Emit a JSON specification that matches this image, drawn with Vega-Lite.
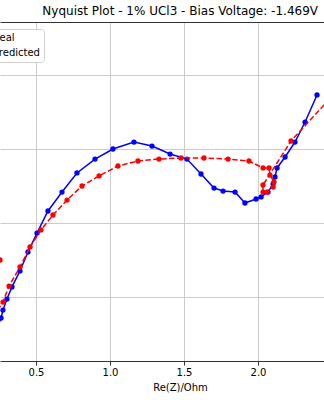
{
  "$schema": "https://vega.github.io/schema/vega-lite/v6.json",
  "width": 324,
  "height": 339,
  "autosize": {"type": "none"},
  "padding": {"left": 0, "right": 0, "top": 22, "bottom": 39},
  "background": "white",
  "config": {
    "view": {"stroke": null},
    "font": "DejaVu Sans",
    "axis": {"labelFont": "DejaVu Sans", "titleFont": "DejaVu Sans"}
  },
  "title": {
    "text": "Nyquist Plot - 1% UCl3 - Bias Voltage: -1.469V",
    "anchor": "end",
    "dx": -6,
    "offset": 4,
    "fontSize": 12,
    "font": "DejaVu Sans",
    "fontWeight": "normal",
    "color": "#000000"
  },
  "data": {
    "values": [
      {"series": "Real", "i": 0, "re": 0.216, "im": -0.257},
      {"series": "Real", "i": 1, "re": 0.264, "im": -0.142},
      {"series": "Real", "i": 2, "re": 0.277, "im": -0.088},
      {"series": "Real", "i": 3, "re": 0.304, "im": -0.014},
      {"series": "Real", "i": 4, "re": 0.338, "im": 0.068},
      {"series": "Real", "i": 5, "re": 0.392, "im": 0.176},
      {"series": "Real", "i": 6, "re": 0.446, "im": 0.304},
      {"series": "Real", "i": 7, "re": 0.507, "im": 0.432},
      {"series": "Real", "i": 8, "re": 0.581, "im": 0.581},
      {"series": "Real", "i": 9, "re": 0.676, "im": 0.709},
      {"series": "Real", "i": 10, "re": 0.777, "im": 0.838},
      {"series": "Real", "i": 11, "re": 0.899, "im": 0.932},
      {"series": "Real", "i": 12, "re": 1.020, "im": 1.000},
      {"series": "Real", "i": 13, "re": 1.162, "im": 1.047},
      {"series": "Real", "i": 14, "re": 1.284, "im": 1.020},
      {"series": "Real", "i": 15, "re": 1.406, "im": 0.966},
      {"series": "Real", "i": 16, "re": 1.520, "im": 0.932},
      {"series": "Real", "i": 17, "re": 1.615, "im": 0.831},
      {"series": "Real", "i": 18, "re": 1.703, "im": 0.736},
      {"series": "Real", "i": 19, "re": 1.764, "im": 0.716},
      {"series": "Real", "i": 20, "re": 1.845, "im": 0.709},
      {"series": "Real", "i": 21, "re": 1.912, "im": 0.635},
      {"series": "Real", "i": 22, "re": 1.987, "im": 0.662},
      {"series": "Real", "i": 23, "re": 2.021, "im": 0.676},
      {"series": "Real", "i": 24, "re": 2.068, "im": 0.709},
      {"series": "Real", "i": 25, "re": 2.102, "im": 0.764},
      {"series": "Real", "i": 26, "re": 2.115, "im": 0.811},
      {"series": "Real", "i": 27, "re": 2.129, "im": 0.872},
      {"series": "Real", "i": 28, "re": 2.183, "im": 0.946},
      {"series": "Real", "i": 29, "re": 2.250, "im": 1.047},
      {"series": "Real", "i": 30, "re": 2.318, "im": 1.182},
      {"series": "Real", "i": 31, "re": 2.399, "im": 1.365},
      {"series": "Predicted", "i": 1, "re": 0.257, "im": 0.250},
      {"series": "Predicted", "i": 2, "re": 0.156, "im": -0.223},
      {"series": "Predicted", "i": 3, "re": 0.277, "im": -0.034},
      {"series": "Predicted", "i": 4, "re": 0.318, "im": 0.074},
      {"series": "Predicted", "i": 5, "re": 0.392, "im": 0.203},
      {"series": "Predicted", "i": 6, "re": 0.460, "im": 0.338},
      {"series": "Predicted", "i": 7, "re": 0.534, "im": 0.453},
      {"series": "Predicted", "i": 8, "re": 0.615, "im": 0.554},
      {"series": "Predicted", "i": 9, "re": 0.710, "im": 0.655},
      {"series": "Predicted", "i": 10, "re": 0.811, "im": 0.750},
      {"series": "Predicted", "i": 11, "re": 0.926, "im": 0.818},
      {"series": "Predicted", "i": 12, "re": 1.054, "im": 0.885},
      {"series": "Predicted", "i": 13, "re": 1.189, "im": 0.919},
      {"series": "Predicted", "i": 14, "re": 1.331, "im": 0.932},
      {"series": "Predicted", "i": 15, "re": 1.480, "im": 0.939},
      {"series": "Predicted", "i": 16, "re": 1.635, "im": 0.939},
      {"series": "Predicted", "i": 17, "re": 1.798, "im": 0.932},
      {"series": "Predicted", "i": 18, "re": 1.939, "im": 0.919},
      {"series": "Predicted", "i": 19, "re": 2.034, "im": 0.872},
      {"series": "Predicted", "i": 20, "re": 2.075, "im": 0.872},
      {"series": "Predicted", "i": 21, "re": 2.081, "im": 0.824},
      {"series": "Predicted", "i": 22, "re": 2.108, "im": 0.777},
      {"series": "Predicted", "i": 23, "re": 2.102, "im": 0.743},
      {"series": "Predicted", "i": 24, "re": 2.061, "im": 0.709},
      {"series": "Predicted", "i": 25, "re": 2.034, "im": 0.709},
      {"series": "Predicted", "i": 26, "re": 2.034, "im": 0.757},
      {"series": "Predicted", "i": 27, "re": 2.223, "im": 1.054},
      {"series": "Predicted", "i": 28, "re": 2.520, "im": 1.378}
    ]
  },
  "encoding": {
    "y": {
      "field": "im",
      "type": "quantitative",
      "scale": {"domain": [-0.4324, 1.858], "nice": false, "zero": false},
      "axis": {
        "values": [0, 0.5, 1, 1.5],
        "domain": false,
        "ticks": false,
        "labels": false,
        "title": null,
        "grid": true,
        "gridColor": "#cccccc",
        "gridWidth": 1
      }
    },
    "color": {
      "field": "series",
      "type": "nominal",
      "scale": {"domain": ["Real", "Predicted"], "range": ["#0000ff", "#ff0000"]},
      "legend": {
        "title": null,
        "orient": "none",
        "legendX": -27,
        "legendY": 7,
        "labelFontSize": 10,
        "labelFont": "DejaVu Sans",
        "labelColor": "#000000",
        "symbolType": "stroke",
        "symbolSize": 64,
        "labelOffset": 6,
        "padding": 4,
        "rowPadding": 5,
        "strokeColor": "#d0d0d0",
        "fillColor": "#ffffff",
        "cornerRadius": 3
      }
    },
    "order": {"field": "i", "type": "quantitative"}
  },
  "layer": [
    {
      "transform": [{"filter": "datum.series === 'Real'"}],
      "mark": {"type": "line", "clip": true, "strokeWidth": 1.5},
      "encoding": {
        "x": {
          "field": "re",
          "type": "quantitative",
          "scale": {"domain": [0.257, 2.446], "nice": false, "zero": false},
          "axis": {
            "orient": "bottom",
            "values": [0.5, 1.0, 1.5, 2.0],
            "format": ".1f",
            "title": "Re(Z)/Ohm",
            "titleFontSize": 10,
            "titleFontWeight": "normal",
            "titleColor": "#000000",
            "titleX": 180,
            "titleY": 29,
            "titleBaseline": "alphabetic",
            "titleAnchor": "middle",
            "labelFontSize": 10,
            "labelColor": "#000000",
            "labelPadding": 2,
            "tickSize": 4,
            "tickColor": "#333333",
            "tickWidth": 1,
            "domainColor": "#333333",
            "domainWidth": 1,
            "grid": true,
            "gridColor": "#cccccc",
            "gridWidth": 1
          }
        }
      }
    },
    {
      "transform": [{"filter": "datum.series === 'Real'"}],
      "mark": {"type": "point", "clip": true, "filled": true, "size": 28, "opacity": 1, "shape": "circle"},
      "encoding": {"x": {"field": "re", "type": "quantitative", "axis": null}}
    },
    {
      "transform": [{"filter": "datum.series === 'Predicted'"}],
      "mark": {"type": "line", "clip": true, "strokeWidth": 1.5, "strokeDash": [5.5, 2.4]},
      "encoding": {"x": {"field": "re", "type": "quantitative", "axis": null}}
    },
    {
      "transform": [{"filter": "datum.series === 'Predicted'"}],
      "mark": {"type": "point", "clip": true, "filled": true, "size": 28, "opacity": 1, "shape": "circle"},
      "encoding": {
        "x": {
          "field": "re",
          "type": "quantitative",
          "axis": {
            "orient": "top",
            "labels": false,
            "ticks": false,
            "grid": false,
            "title": null,
            "domain": true,
            "domainColor": "#333333",
            "domainWidth": 1
          }
        }
      }
    }
  ],
  "resolve": {"axis": {"x": "independent"}}
}
